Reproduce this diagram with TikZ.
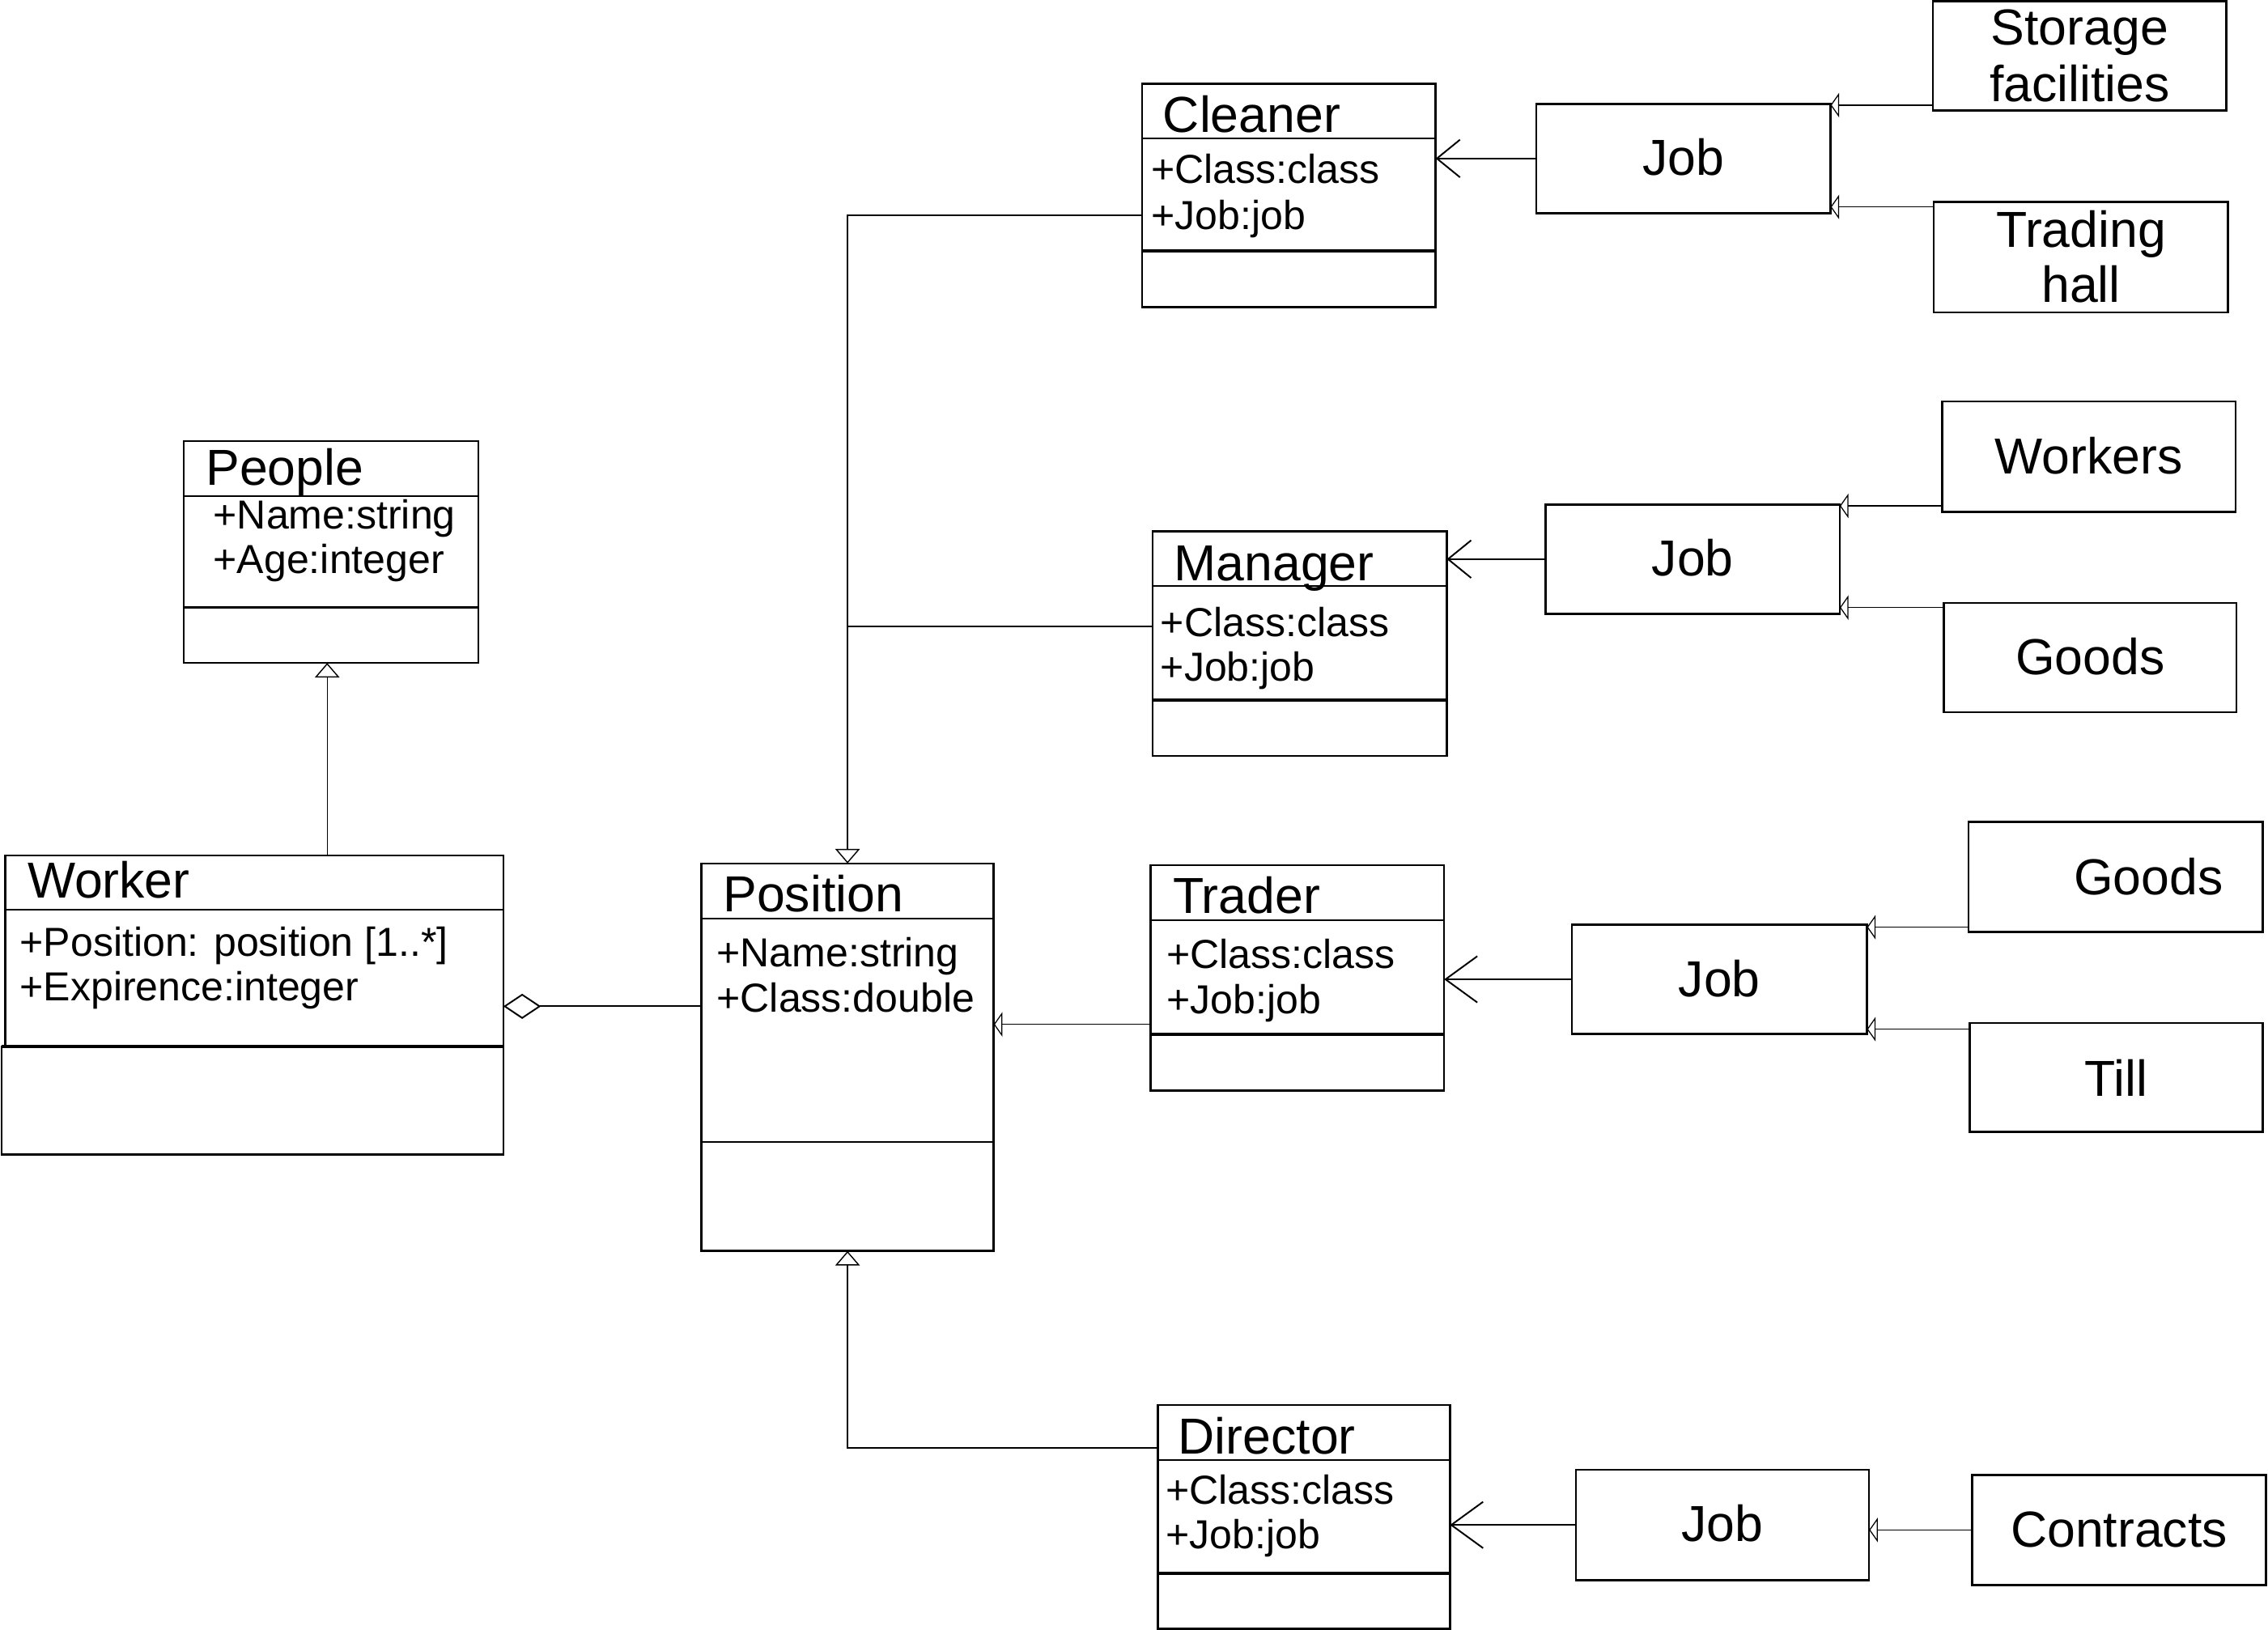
\documentclass[tikz,border=0pt]{standalone}
\usepackage{fontspec}
\setmainfont{Liberation Sans}
\usetikzlibrary{fit,calc,arrows.meta}
\newcommand{\tfont}{\fontsize{17.5}{19.6}\selectfont}
\newcommand{\afont}{\fontsize{14}{16}\selectfont}
\begin{document}
\begin{tikzpicture}[x=0.5pt,y=-0.5pt,
 box/.style={draw, line width=0.7pt, inner sep=0pt, outer sep=0pt},
 ttl/.style={anchor=base west, inner sep=0pt, font=\tfont},
 attr/.style={anchor=base west, inner sep=0pt, font=\afont},
 lbl/.style={anchor=base, inner sep=0pt, font=\tfont},
 divline/.style={line width=0.6pt},
 opsline/.style={line width=1.1pt},
 assoc/.style={line width=0.55pt, -{Straight Barb[length=8pt,width=13pt]}},
 assocbig/.style={line width=0.55pt, -{Straight Barb[length=11pt,width=16pt]}},
 gen/.style={line width=0.4pt, -{Triangle[open,length=5pt,width=8.5pt]}},
 leafarrow/.style={line width=0.35pt, -{Triangle[open,length=3pt,width=8.5pt]}},
 plainline/.style={line width=0.4pt},
]
\useasboundingbox (0,0) rectangle (1568,1127);

% ---------- People ----------
\node[box, fit={(127.1,305.1) (330.6,458.4)}] (people) {};
\draw[divline] (127.1,342.9) -- (330.6,342.9);
\draw[opsline] (127.1,420) -- (330.6,420);
\node[ttl] (peopleT) at (141.9,335.3) {People};
\node[attr] (peopleA1) at (147.2,365.9) {+Name:string};
\node[attr] (peopleA2) at (147.2,396.7) {+Age:integer};

% ---------- Worker ----------
\node[box, fit={(3.6,591.4) (348,723.6)}] (worker) {};
\node[box, fit={(1,723.6) (348,798.3)}] (workerM) {};
\draw[divline] (3.6,629.2) -- (348,629.2);
\draw[opsline] (1,723.6) -- (348,723.6);
\node[ttl] (workerT) at (18.7,621) {Worker};
\node[attr] (workerA1) at (13.4,661.3) {+Position: position [1..*]};
\node[attr] (workerA2) at (13.4,692.2) {+Expirence:integer};

% ---------- Position ----------
\node[box, fit={(484.9,597) (687,865)}] (position) {};
\draw[divline] (484.9,635.1) -- (687,635.1);
\draw[divline] (484.9,789.4) -- (687,789.4);
\node[ttl] (positionT) at (499.6,630.2) {Position};
\node[attr] (positionA1) at (495.2,668.6) {+Name:string};
\node[attr] (positionA2) at (495.2,699.8) {+Class:double};

% ---------- Cleaner ----------
\node[box, fit={(789.5,57.8) (992.5,212.3)}] (cleaner) {};
\draw[divline] (789.5,95.5) -- (992.5,95.5);
\draw[opsline] (789.5,173.5) -- (992.5,173.5);
\node[ttl] (cleanerT) at (803.7,91.4) {Cleaner};
\node[attr] (cleanerA1) at (795.5,126.9) {+Class:class};
\node[attr] (cleanerA2) at (795.5,158.6) {+Job:job};

% ---------- Manager ----------
\node[box, fit={(796.9,367.5) (1000.2,522.7)}] (manager) {};
\draw[divline] (796.9,405.3) -- (1000.2,405.3);
\draw[opsline] (796.9,484) -- (1000.2,484);
\node[ttl] (managerT) at (811.4,401.4) {Manager};
\node[attr] (managerA1) at (802,439.9) {+Class:class};
\node[attr] (managerA2) at (802,471) {+Job:job};

% ---------- Trader ----------
\node[box, fit={(795.5,598.2) (998.4,754.2)}] (trader) {};
\draw[divline] (795.5,636.1) -- (998.4,636.1);
\draw[opsline] (795.5,715) -- (998.4,715);
\node[ttl] (traderT) at (810.5,631.4) {Trader};
\node[attr] (traderA1) at (806.2,669.7) {+Class:class};
\node[attr] (traderA2) at (806.2,701) {+Job:job};

% ---------- Director ----------
\node[box, fit={(800.4,971.5) (1002.4,1126.3)}] (director) {};
\draw[divline] (800.4,1009.5) -- (1002.4,1009.5);
\draw[opsline] (800.4,1087.8) -- (1002.4,1087.8);
\node[ttl] (directorT) at (814.2,1005.4) {Director};
\node[attr] (directorA1) at (805.6,1039.9) {+Class:class};
\node[attr] (directorA2) at (805.6,1070.7) {+Job:job};

% ---------- Job boxes ----------
\node[box, fit={(1062,71.8) (1265.5,147.4)}] (jobC) {};
\node[lbl] (jobCT) at (jobC.center |- 0,121.3) {Job};
\node[box, fit={(1068.6,348.8) (1271.9,424.4)}] (jobM) {};
\node[lbl] (jobMT) at (jobM.center |- 0,398.3) {Job};
\node[box, fit={(1086.7,639.3) (1290.7,715)}] (jobT) {};
\node[lbl] (jobTT) at (jobT.center |- 0,689.3) {Job};
\node[box, fit={(1089.5,1016.3) (1292.2,1092.5)}] (jobD) {};
\node[lbl] (jobDT) at (jobD.center |- 0,1066) {Job};

% ---------- Leaf boxes ----------
\node[box, fit={(1336.3,0.9) (1539.2,76.5)}] (storage) {};
\node[lbl] (storageT1) at (storage.center |- 0,30.8) {Storage};
\node[lbl] (storageT2) at (storage.center |- 0,70) {facilities};
\node[box, fit={(1337,139.5) (1540.4,216)}] (trading) {};
\node[lbl] (tradingT1) at (trading.center |- 0,170.7) {Trading};
\node[lbl] (tradingT2) at (trading.center |- 0,208.9) {hall};
\node[box, fit={(1342.8,277.6) (1545.6,354)}] (workers) {};
\node[lbl] (workersT) at (workers.center |- 0,327.9) {Workers};
\node[box, fit={(1343.8,416.9) (1546.2,492.5)}] (goodsM) {};
\node[lbl] (goodsMT) at (goodsM.center |- 0,466.3) {Goods};
\node[box, fit={(1360.8,568.4) (1564.3,644.5)}] (goodsT) {};
\node[lbl] (goodsTT) at (1485.3,618.4) {Goods};
\node[box, fit={(1361.9,707.3) (1564.3,782.5)}] (till) {};
\node[lbl] (tillT) at (till.center |- 0,757.7) {Till};
\node[box, fit={(1363.5,1019.8) (1566.5,1095.9)}] (contracts) {};
\node[lbl] (contractsT) at (contracts.center |- 0,1069.8) {Contracts};

% ---------- Connectors ----------
% Worker -> People (generalization)
\coordinate (pg) at ($(people.south)+(-2.65,0)$);
\draw[gen] (worker.north -| pg) -- (pg);

% Worker <>-- Position (aggregation)
\coordinate (ag) at ($(position.west)+(0,-35.2)$);
\draw[line width=0.55pt, {Diamond[open,length=13pt,width=8.7pt]}-] (ag -| worker.east) -- (ag);

% Cleaner, Manager -> Position
\coordinate (cl) at ($(cleaner.west)+(0,13.9)$);
\draw[gen] (cl) -| (position.north);
\coordinate (mgl) at ($(manager.west)+(0,-11.9)$);
\draw[plainline] (mgl) -- (mgl -| position.north);

% Trader -> Position
\coordinate (tl) at ($(trader.west)+(0,32.1)$);
\draw[leafarrow] (tl) -- (tl -| position.east);

% Director -> Position
\coordinate (dl) at ($(director.west)+(0,-47.8)$);
\draw[gen] (dl) -| (position.south);

% Job -> classes
\draw[assoc] (jobC.west) -- (jobC.west -| cleaner.east);
\draw[assoc] (jobM.west) -- (jobM.west -| manager.east);
\draw[assocbig] (jobT.west) -- (jobT.west -| trader.east);
\draw[assocbig] (jobD.west) -- (jobD.west -| director.east);

% Leaves -> Job
\coordinate (st) at ($(storage.south west)+(0,-3.8)$);
\draw[leafarrow] (st) -- (st -| jobC.east);
\coordinate (th) at ($(trading.north west)+(0,3.6)$);
\draw[leafarrow] (th) -- (th -| jobC.east);
\coordinate (wk) at ($(workers.south west)+(0,-4.2)$);
\draw[leafarrow] (wk) -- (wk -| jobM.east);
\coordinate (gm) at ($(goodsM.north west)+(0,3.2)$);
\draw[leafarrow] (gm) -- (gm -| jobM.east);
\coordinate (gt) at ($(goodsT.south west)+(0,-3.4)$);
\draw[leafarrow] (gt) -- (gt -| jobT.east);
\coordinate (tu) at ($(till.north west)+(0,4.3)$);
\draw[leafarrow] (tu) -- (tu -| jobT.east);
\draw[leafarrow] (contracts.west) -- (contracts.west -| jobD.east);
\end{tikzpicture}
\end{document}
